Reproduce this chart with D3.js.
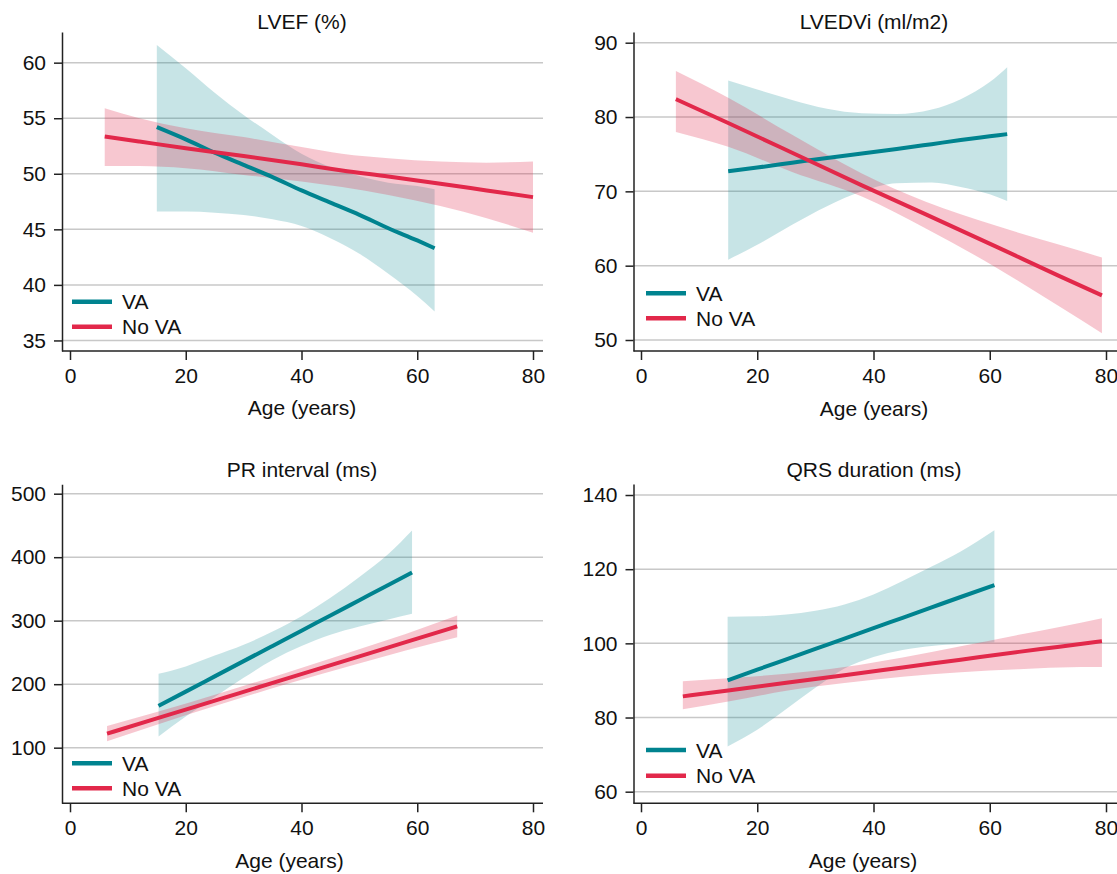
<!DOCTYPE html>
<html>
<head>
<meta charset="utf-8">
<script src="https://cdn.jsdelivr.net/npm/d3@7"></script>
<style>
body { margin: 0; background: #fff; }
</style>
</head>
<body>
<svg id="chart" width="1117" height="874"></svg>
<script>
// Series labels
var groupLabels = ["VA", "No VA"];
var xTickValues = [0, 20, 40, 60, 80];

// LVEF (%)
var lvefVaAge = [15, 20, 25, 30, 35, 40, 45, 50, 55, 60, 63];
var lvefVaFit = [54.2, 53.1, 51.9, 50.8, 49.7, 48.5, 47.4, 46.3, 45.1, 44.0, 43.3];
var lvefVaHi  = [61.6, 59.5, 57.3, 55.3, 53.5, 51.8, 50.6, 49.8, 49.2, 48.9, 48.6];
var lvefVaLo  = [46.6, 46.6, 46.5, 46.3, 45.9, 45.3, 44.2, 42.8, 41.0, 39.0, 37.6];
var lvefNoAge = [6, 12, 20, 30, 40, 47, 55, 64, 72, 80];
var lvefNoFit = [53.35, 52.9, 52.3, 51.6, 50.85, 50.3, 49.75, 49.1, 48.5, 47.9];
var lvefNoHi  = [55.9, 55.0, 54.1, 53.3, 52.4, 51.8, 51.4, 51.1, 51.0, 51.1];
var lvefNoLo  = [50.7, 50.7, 50.5, 49.9, 49.3, 48.8, 48.1, 47.1, 46.0, 44.7];
var lvefTicks = [35, 40, 45, 50, 55, 60];

// LVEDVi (ml/m2)
var lvedviVaAge = [15, 20, 26, 32, 38, 44, 50, 55, 60, 63];
var lvedviVaFit = [72.7, 73.2, 73.85, 74.5, 75.1, 75.7, 76.35, 76.9, 77.4, 77.7];
var lvedviVaHi  = [84.9, 83.7, 82.3, 81.1, 80.5, 80.4, 81.0, 82.4, 84.7, 86.7];
var lvedviVaLo  = [60.8, 62.8, 65.5, 68.0, 70.0, 71.1, 71.2, 70.6, 69.6, 68.7];
var lvedviNoAge = [6, 15, 26, 38, 49, 61, 72, 79.3];
var lvedviNoFit = [82.4, 79.2, 75.2, 70.8, 66.9, 62.6, 58.6, 56.0];
var lvedviNoHi  = [86.2, 82.6, 77.6, 72.4, 68.6, 65.4, 62.8, 61.1];
var lvedviNoLo  = [78.0, 76.0, 72.6, 69.3, 65.0, 59.8, 54.5, 50.9];
var lvedviTicks = [50, 60, 70, 80, 90];

// PR interval (ms)
var prVaAge = [15.3, 20, 25, 30, 35, 40, 45, 50, 55, 59.1];
var prVaFit = [165.8, 188.3, 212.3, 236.3, 260.3, 284.3, 308.2, 332.2, 356.2, 375.8];
var prVaHi  = [216.5, 228, 245, 262, 283, 307, 336, 369, 405, 442];
var prVaLo  = [117.5, 149, 180, 210, 238, 260, 278, 291, 302, 311];
var prNoAge = [6.4, 15, 26.3, 37, 49.3, 58, 66.9];
var prNoFit = [122.1, 146.1, 177.7, 207.6, 241.9, 266.2, 291.1];
var prNoHi  = [134, 156, 187, 217, 253, 279, 308];
var prNoLo  = [110, 136, 169, 199, 231, 253, 274];
var prTicks = [100, 200, 300, 400, 500];

// QRS duration (ms)
var qrsVaAge = [14.9, 20, 25, 30, 35, 40, 45, 50, 55, 60.8];
var qrsVaFit = [90.0, 92.9, 95.7, 98.5, 101.3, 104.1, 106.9, 109.7, 112.5, 115.7];
var qrsVaHi  = [107.2, 107.3, 107.8, 108.8, 110.5, 113.2, 116.8, 120.7, 124.8, 130.5];
var qrsVaLo  = [72.2, 76.7, 82.3, 88.0, 93.2, 96.3, 98.2, 99.3, 99.8, 100.3];
var qrsNoAge = [7.2, 15, 25, 35, 45, 55, 65, 72, 79.3];
var qrsNoFit = [85.7, 87.3, 89.4, 91.4, 93.5, 95.6, 97.7, 99.1, 100.6];
var qrsNoHi  = [89.8, 90.6, 91.8, 93.6, 96.2, 99.2, 102.3, 104.4, 106.8];
var qrsNoLo  = [82.2, 84.3, 87.2, 89.3, 91.0, 92.2, 93.0, 93.5, 93.6];
var qrsTicks = [60, 80, 100, 120, 140];

var teal = "#00838f";
var red = "#e2284a";
var fontFamily = '"Liberation Sans", Arial, sans-serif';
var fontSize = 21;

function toRows(age, fit, lo, hi) {
    return age.map(function(a, i) { return { age: a, fit: fit[i], lo: lo[i], hi: hi[i] }; });
}

function drawPanel(p) {
    var svg = d3.select("#chart");
    var g = svg.append("g");

    var x = d3.scaleLinear().domain([0, 80]).range([p.x0, p.x80]);
    var y = d3.scaleLinear().domain(p.yDomain).range([p.bottom, p.top]);

    // lineas de la rejilla
    g.selectAll(".grid")
        .data(p.yTicks)
        .enter().append("line")
        .attr("x1", p.left)
        .attr("x2", p.right)
        .attr("y1", function(d) { return y(d); })
        .attr("y2", function(d) { return y(d); })
        .attr("stroke", "#c8c8c8")
        .attr("stroke-width", 1.5);

    var area = d3.area()
        .x(function(d) { return x(d.age); })
        .y0(function(d) { return y(d.lo); })
        .y1(function(d) { return y(d.hi); })
        .curve(d3.curveMonotoneX);

    var line = d3.line()
        .x(function(d) { return x(d.age); })
        .y(function(d) { return y(d.fit); })
        .curve(d3.curveMonotoneX);

    g.append("path").attr("d", area(p.va)).attr("fill", teal).attr("fill-opacity", 0.22);
    g.append("path").attr("d", area(p.noVa)).attr("fill", red).attr("fill-opacity", 0.26);
    g.append("path").attr("d", line(p.va)).attr("fill", "none").attr("stroke", teal).attr("stroke-width", 4);
    g.append("path").attr("d", line(p.noVa)).attr("fill", "none").attr("stroke", red).attr("stroke-width", 4);

    // eje y
    var yAxis = d3.axisLeft(y).tickValues(p.yTicks).tickSize(8).tickPadding(8).tickSizeOuter(0);
    var yg = g.append("g")
        .attr("transform", "translate(" + p.left + ",0)")
        .call(yAxis);

    // eje x
    var xAxis = d3.axisBottom(x).tickValues(xTickValues).tickSize(9).tickPadding(8).tickSizeOuter(0);
    var xg = g.append("g")
        .attr("transform", "translate(0," + p.bottom + ")")
        .call(xAxis);
    xg.select(".domain").remove();
    xg.append("line")
        .attr("x1", p.left).attr("x2", p.right)
        .attr("y1", 0).attr("y2", 0)
        .attr("stroke", "#222").attr("stroke-width", 1.5);

    [yg, xg].forEach(function(a) {
        a.attr("font-family", fontFamily).attr("font-size", fontSize);
        a.selectAll(".domain").attr("stroke", "#222").attr("stroke-width", 1.5);
        a.selectAll(".tick line").attr("stroke", "#222").attr("stroke-width", 1.5);
        a.selectAll(".tick text").attr("fill", "#111");
    });

    // titulos
    g.append("text")
        .attr("x", p.titleX).attr("y", p.titleY)
        .attr("text-anchor", "middle")
        .attr("font-family", fontFamily).attr("font-size", fontSize).attr("fill", "#111")
        .text(p.title);

    g.append("text")
        .attr("x", p.xTitleX).attr("y", p.xTitleY)
        .attr("text-anchor", "middle")
        .attr("font-family", fontFamily).attr("font-size", fontSize).attr("fill", "#111")
        .text("Age (years)");

    // leyenda
    var legendColors = [teal, red];
    var lg = g.append("g");
    lg.selectAll("line")
        .data(groupLabels)
        .enter().append("line")
        .attr("x1", p.legendX).attr("x2", p.legendX + 40)
        .attr("y1", function(d, i) { return p.legendY[i]; })
        .attr("y2", function(d, i) { return p.legendY[i]; })
        .attr("stroke", function(d, i) { return legendColors[i]; })
        .attr("stroke-width", 4.5);
    lg.selectAll("text")
        .data(groupLabels)
        .enter().append("text")
        .attr("x", p.legendX + 50)
        .attr("y", function(d, i) { return p.legendY[i]; })
        .attr("dy", "0.36em")
        .attr("font-family", fontFamily).attr("font-size", fontSize).attr("fill", "#111")
        .text(function(d) { return d; });
}

drawPanel({
    title: "LVEF (%)", titleX: 302, titleY: 29, xTitleX: 302, xTitleY: 415,
    left: 62, right: 543, x0: 70, x80: 533, top: 32, bottom: 351,
    yDomain: [34.05, 62.76], yTicks: lvefTicks,
    legendX: 72, legendY: [301.7, 326.7],
    va: toRows(lvefVaAge, lvefVaFit, lvefVaLo, lvefVaHi),
    noVa: toRows(lvefNoAge, lvefNoFit, lvefNoLo, lvefNoHi)
});

drawPanel({
    title: "LVEDVi (ml/m2)", titleX: 874, titleY: 29, xTitleX: 874, xTitleY: 416,
    left: 633.5, right: 1117, x0: 641, x80: 1106, top: 32, bottom: 351,
    yDomain: [48.52, 91.44], yTicks: lvedviTicks,
    legendX: 646, legendY: [293.3, 318.3],
    va: toRows(lvedviVaAge, lvedviVaFit, lvedviVaLo, lvedviVaHi),
    noVa: toRows(lvedviNoAge, lvedviNoFit, lvedviNoLo, lvedviNoHi)
});

drawPanel({
    title: "PR interval (ms)", titleX: 302, titleY: 477, xTitleX: 289.5, xTitleY: 868,
    left: 62, right: 543, x0: 70, x80: 533, top: 484.3, bottom: 803.3,
    yDomain: [12.4, 514.8], yTicks: prTicks,
    legendX: 72, legendY: [763.3, 788.3],
    va: toRows(prVaAge, prVaFit, prVaLo, prVaHi),
    noVa: toRows(prNoAge, prNoFit, prNoLo, prNoHi)
});

drawPanel({
    title: "QRS duration (ms)", titleX: 874, titleY: 477, xTitleX: 863, xTitleY: 868,
    left: 633.5, right: 1117, x0: 641, x80: 1106, top: 484, bottom: 803.3,
    yDomain: [56.87, 142.97], yTicks: qrsTicks,
    legendX: 646, legendY: [750, 775.7],
    va: toRows(qrsVaAge, qrsVaFit, qrsVaLo, qrsVaHi),
    noVa: toRows(qrsNoAge, qrsNoFit, qrsNoLo, qrsNoHi)
});
</script>
</body>
</html>
